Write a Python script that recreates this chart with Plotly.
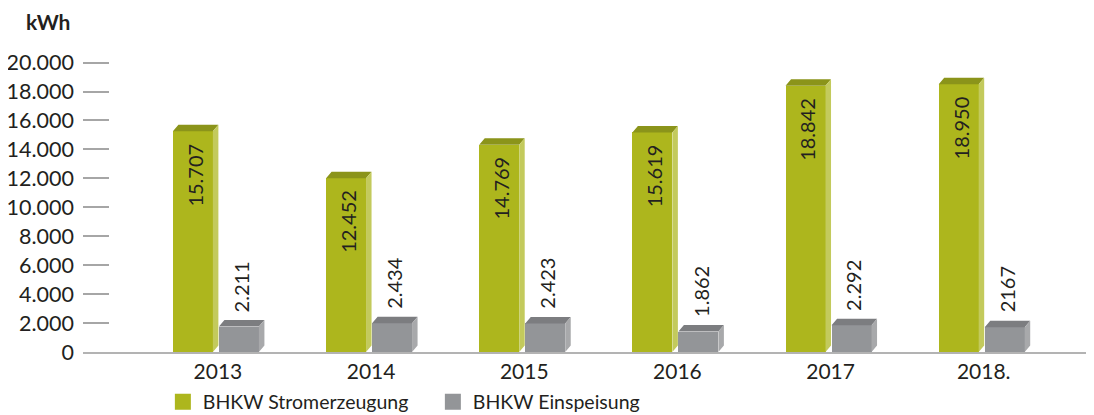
import plotly.graph_objects as go

# ---- data ----
years = ["2013", "2014", "2015", "2016", "2017", "2018."]
strom = [15707, 12452, 14769, 15619, 18842, 18950]
strom_labels = ["15.707", "12.452", "14.769", "15.619", "18.842", "18.950"]
einsp = [2211, 2434, 2423, 1862, 2292, 2167]
einsp_labels = ["2.211", "2.434", "2.423", "1.862", "2.292", "2167"]
y_ticks = [0, 2000, 4000, 6000, 8000, 10000, 12000, 14000, 16000, 18000, 20000]
y_ticklabels = ["0", "2.000", "4.000", "6.000", "8.000", "10.000", "12.000",
                "14.000", "16.000", "18.000", "20.000"]
series_names = ["BHKW Stromerzeugung", "BHKW Einspeisung"]

# ---- style ----
FONT = "Lato, 'Open Sans', sans-serif"
TXT = "#231f20"
GREEN = dict(front="#adb61d", top="#8b941a", side="#c3ca5c")
GRAY = dict(front="#939598", top="#7c7d80", side="#a8a9ab")
W = 0.261      # front face width (category units)
DX = 0.036     # depth in x (category units)
DY = 450       # depth in y (data units)
OFF = [-0.294, 0.0065]  # left edge of front face relative to category centre

xs = list(range(len(years)))
fig = go.Figure()


def add_series(vals, off, col, name):
    front_h = [v - DY for v in vals]
    fig.add_trace(go.Bar(x=xs, y=front_h, width=W, offset=off,
                         marker=dict(color=col["front"], line=dict(width=0)),
                         showlegend=False, hoverinfo="skip"))
    tx, ty, sx, sy = [], [], [], []
    for c, v in zip(xs, vals):
        x0 = c + off
        x1 = x0 + W
        tx += [x0, x0 + DX, x1 + DX, x1, x0, None]
        ty += [v - DY, v, v, v - DY, v - DY, None]
        sx += [x1, x1 + DX, x1 + DX, x1, x1, None]
        sy += [v - DY, v, DY, 0, v - DY, None]
    fig.add_trace(go.Scatter(x=tx, y=ty, fill="toself", mode="lines",
                             fillcolor=col["top"], line=dict(width=0, color=col["top"]),
                             showlegend=False, hoverinfo="skip"))
    fig.add_trace(go.Scatter(x=sx, y=sy, fill="toself", mode="lines",
                             fillcolor=col["side"], line=dict(width=0, color=col["side"]),
                             showlegend=False, hoverinfo="skip"))
    # legend entry
    fig.add_trace(go.Scatter(x=[None], y=[None], mode="markers", name=name,
                             marker=dict(symbol="square", size=16, color=col["front"])))


add_series(strom, OFF[0], GREEN, series_names[0])
add_series(einsp, OFF[1], GRAY, series_names[1])

annotations = []
for c, v, t in zip(xs, strom, strom_labels):
    annotations.append(dict(x=c + OFF[0] + W / 2, y=v - DY, text=t, textangle=-90,
                            xanchor="center", yanchor="top", yshift=-10, xshift=2,
                            showarrow=False, font=dict(size=20, color=TXT, family=FONT)))
for c, v, t in zip(xs, einsp, einsp_labels):
    annotations.append(dict(x=c + OFF[1] + W / 2, y=v, text=t, textangle=-90,
                            xanchor="center", yanchor="bottom", yshift=6, xshift=2,
                            showarrow=False, font=dict(size=20, color=TXT, family=FONT)))
annotations.append(dict(xref="paper", yref="paper", x=-0.035, y=1.058, text="<b>kWh</b>",
                        xanchor="center", yanchor="middle", showarrow=False,
                        font=dict(size=21, color=TXT, family=FONT)))

# the page body has an 8px margin, so the figure is sized 8px smaller
fig.update_layout(
    width=1086, height=407,
    margin=dict(l=75, r=0, t=32, b=63, autoexpand=False),
    paper_bgcolor="white", plot_bgcolor="white",
    barmode="overlay", bargap=0,
    font=dict(family=FONT, color=TXT),
    xaxis=dict(range=[-0.881, 5.72], tickvals=xs, ticktext=years, automargin=False,
               showgrid=False, zeroline=False, showline=True, linecolor="#b3b3b3",
               linewidth=1.5, ticks="", tickfont=dict(size=21, color=TXT, family=FONT)),
    yaxis=dict(range=[0, 21560], tickvals=y_ticks, ticktext=y_ticklabels, automargin=False,
               showgrid=False, zeroline=False, showline=False, ticklabelstandoff=8,
               ticks="inside", ticklen=26, tickcolor="#a6a6a6", tickwidth=1.5,
               tickfont=dict(size=21.5, color=TXT, family=FONT)),
    legend=dict(orientation="h", x=0.079, xanchor="left", y=-0.098, yanchor="top",
                font=dict(size=19.5, color=TXT, family=FONT), entrywidth=225,
                entrywidthmode="pixels", itemsizing="trace"),
    annotations=annotations,
)

fig.write_html("out.html")
